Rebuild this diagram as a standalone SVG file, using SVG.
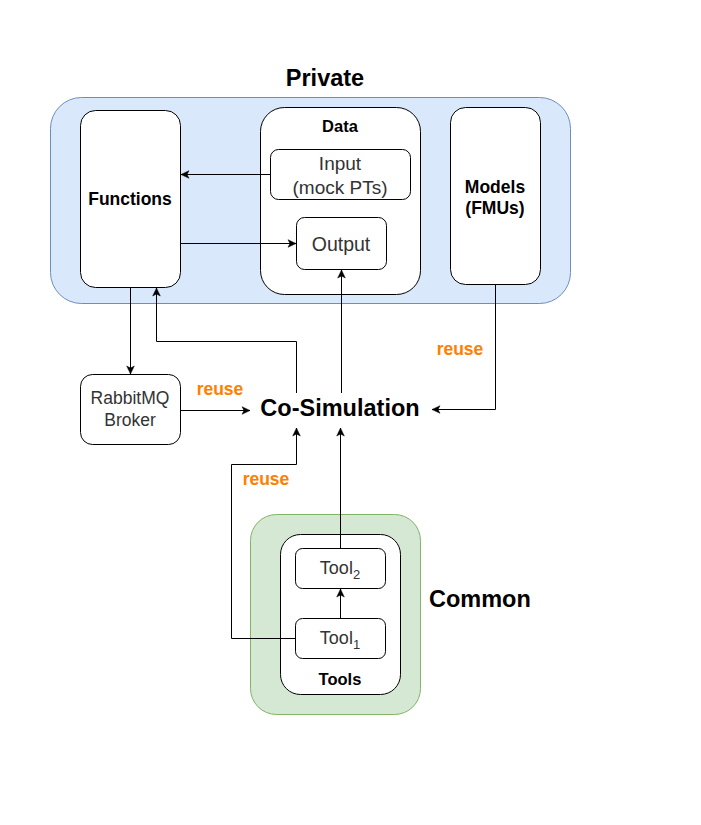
<svg xmlns="http://www.w3.org/2000/svg" width="701" height="825" viewBox="0 0 701 825">
<style>
text{font-family:"Liberation Sans",Arial,Helvetica,sans-serif;text-anchor:middle}
.b{font-weight:bold;fill:#000}
.lbl{font-weight:bold;font-size:17.5px}
.big{font-weight:bold;font-size:23.5px}
.reg{fill:#333333}
.reuse{font-weight:bold;font-size:17.5px;fill:#FF8000}
.box{fill:#fff;stroke:#000;stroke-width:1}
.con{fill:none;stroke:#000;stroke-width:1}
</style>
<defs>
<marker id="arr" markerUnits="userSpaceOnUse" markerWidth="10" markerHeight="10" viewBox="0 0 10 10" refX="9" refY="5" orient="auto">
<path d="M1,1.2 L9,5 L1,8.8 L3,5 Z" fill="#000" stroke="#000" stroke-width="0.5"/>
</marker>
</defs>
<rect width="701" height="825" fill="#fff"/>
<g id="private">
<rect x="50.5" y="97.5" width="520" height="206" rx="31" ry="31" fill="#dae8fc" stroke="#6c8ebf"/>
<text class="big" x="325" y="86">Private</text>
</g>
<g id="common">
<rect x="250.5" y="514.5" width="170" height="200" rx="26" ry="26" fill="#d5e8d4" stroke="#82b366"/>
<text class="big" x="429" y="607" style="text-anchor:start">Common</text>
</g>
<g id="functions">
<rect class="box" x="80.5" y="110.5" width="100" height="177" rx="15" ry="15"/>
<text class="b lbl" x="130" y="205">Functions</text>
</g>
<g id="data">
<rect class="box" x="260.5" y="107.5" width="160" height="187" rx="24" ry="24"/>
<text class="b" x="340" y="132" font-size="16.5" font-weight="bold">Data</text>
</g>
<g id="input">
<rect class="box" x="270.5" y="149.5" width="140" height="50" rx="8" ry="8"/>
<text class="reg" x="340" y="170" font-size="19">Input</text>
<text class="reg" x="340" y="194" font-size="19">(mock PTs)</text>
</g>
<g id="output">
<rect class="box" x="296.5" y="217.5" width="90" height="52" rx="8" ry="8"/>
<text class="reg" x="341" y="251" font-size="19.5">Output</text>
</g>
<g id="models">
<rect class="box" x="450.5" y="107.5" width="90" height="177" rx="15" ry="15"/>
<text class="b lbl" x="495" y="193">Models</text>
<text class="b lbl" x="495" y="214">(FMUs)</text>
</g>
<g id="rabbitmq">
<rect class="box" x="80.5" y="374.5" width="100" height="70" rx="12" ry="12"/>
<text class="reg" x="130" y="404" font-size="17.5">RabbitMQ</text>
<text class="reg" x="130" y="426" font-size="17.5">Broker</text>
</g>
<g id="cosimulation">
<text class="big" x="340" y="416">Co-Simulation</text>
</g>
<g id="tools">
<rect class="box" x="280.5" y="534.5" width="120" height="160" rx="20" ry="20"/>
<text class="b" x="340" y="685" font-size="16.5" font-weight="bold">Tools</text>
</g>
<g id="tool2">
<rect class="box" x="295.5" y="548.5" width="90" height="40" rx="7" ry="7"/>
<text class="reg" x="340" y="574" font-size="18">Tool<tspan font-size="13" dy="5">2</tspan></text>
</g>
<g id="tool1">
<rect class="box" x="295.5" y="618.5" width="90" height="40" rx="7" ry="7"/>
<text class="reg" x="340" y="644" font-size="18">Tool<tspan font-size="13" dy="5">1</tspan></text>
</g>
<g id="connectors">
<path class="con" d="M270.5,174.5 H181" marker-end="url(#arr)"/>
<path class="con" d="M180.5,243.5 H296" marker-end="url(#arr)"/>
<path class="con" d="M130.5,287.5 V374" marker-end="url(#arr)"/>
<path class="con" d="M296.5,393 V341.5 H156.5 V288" marker-end="url(#arr)"/>
<path class="con" d="M341.5,393 V270" marker-end="url(#arr)"/>
<path class="con" d="M495.5,284.5 V409.5 H432" marker-end="url(#arr)"/>
<path class="con" d="M180.5,410.5 H250" marker-end="url(#arr)"/>
<path class="con" d="M295.5,638.5 H231.5 V464.5 H296.5 V428" marker-end="url(#arr)"/>
<path class="con" d="M340.5,548.5 V428" marker-end="url(#arr)"/>
<path class="con" d="M340.5,618.5 V589" marker-end="url(#arr)"/>
<text class="reuse" x="220" y="395">reuse</text>
<text class="reuse" x="460" y="355">reuse</text>
<text class="reuse" x="266" y="485">reuse</text>
</g>
</svg>
